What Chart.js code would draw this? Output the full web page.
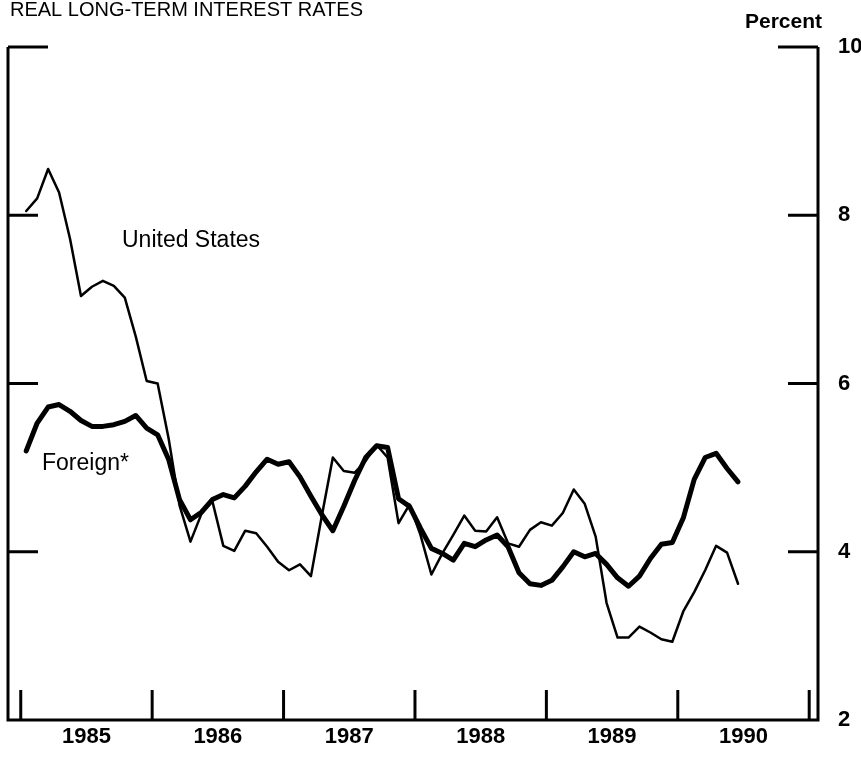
<!DOCTYPE html>
<html>
<head>
<meta charset="utf-8">
<script src="https://cdn.jsdelivr.net/npm/chart.js@4.4.1/dist/chart.umd.min.js"></script>
<style>
  html, body { margin: 0; padding: 0; background: #fff; }
  canvas { display: block; }
</style>
</head>
<body>
<canvas id="chart" width="861" height="757"></canvas>
<script>
// Real long-term interest rates, monthly, Jan 1985 - Jun 1990

const months = [
  "1985-01", "1985-02", "1985-03", "1985-04", "1985-05", "1985-06",
  "1985-07", "1985-08", "1985-09", "1985-10", "1985-11", "1985-12",
  "1986-01", "1986-02", "1986-03", "1986-04", "1986-05", "1986-06",
  "1986-07", "1986-08", "1986-09", "1986-10", "1986-11", "1986-12",
  "1987-01", "1987-02", "1987-03", "1987-04", "1987-05", "1987-06",
  "1987-07", "1987-08", "1987-09", "1987-10", "1987-11", "1987-12",
  "1988-01", "1988-02", "1988-03", "1988-04", "1988-05", "1988-06",
  "1988-07", "1988-08", "1988-09", "1988-10", "1988-11", "1988-12",
  "1989-01", "1989-02", "1989-03", "1989-04", "1989-05", "1989-06",
  "1989-07", "1989-08", "1989-09", "1989-10", "1989-11", "1989-12",
  "1990-01", "1990-02", "1990-03", "1990-04", "1990-05", "1990-06"
];

const usRates = [
  8.05, 8.2, 8.55, 8.27, 7.72, 7.04, 7.15, 7.22, 7.16, 7.02, 6.56, 6.03,
  6.0, 5.35, 4.55, 4.12, 4.45, 4.6, 4.07, 4.01, 4.25, 4.22, 4.06, 3.88,
  3.78, 3.85, 3.71, 4.43, 5.12, 4.96, 4.94, 5.08, 5.27, 5.12, 4.34, 4.56,
  4.2, 3.73, 3.98, 4.2, 4.43, 4.25, 4.24, 4.41, 4.1, 4.06, 4.26, 4.35,
  4.31, 4.46, 4.74, 4.57, 4.18, 3.39, 2.98, 2.98, 3.11, 3.04, 2.96, 2.93,
  3.29, 3.52, 3.78, 4.07, 3.99, 3.62
];

const foreignRates = [
  5.2, 5.53, 5.72, 5.75, 5.67, 5.56, 5.49, 5.49, 5.51, 5.55, 5.62, 5.47,
  5.39, 5.1, 4.62, 4.38, 4.47, 4.62, 4.68, 4.64, 4.78, 4.95, 5.1, 5.04,
  5.07, 4.89, 4.66, 4.44, 4.25, 4.54, 4.85, 5.12, 5.26, 5.24, 4.63, 4.54,
  4.28, 4.04, 3.98, 3.9, 4.1, 4.06, 4.14, 4.2, 4.06, 3.75, 3.62, 3.6,
  3.66, 3.82, 4.0, 3.94, 3.98, 3.85, 3.69, 3.59, 3.71, 3.92, 4.09, 4.11,
  4.4, 4.86, 5.12, 5.17, 4.99, 4.83
];

const yearTicks = [1985, 1986, 1987, 1988, 1989, 1990, 1991];
const yearLabels = ["1985", "1986", "1987", "1988", "1989", "1990"];
const percentTicks = [2, 4, 6, 8, 10];

const FONT = "'Liberation Sans', Arial, Helvetica, sans-serif";

// month string -> decimal year at mid-month
function monthToX(s) {
  var parts = s.split("-");
  return parseInt(parts[0], 10) + (parseInt(parts[1], 10) - 0.5) / 12;
}

function toPoints(values) {
  return values.map(function(v, i) { return { x: monthToX(months[i]), y: v }; });
}

// --- Frame, tick marks and free text ---

var framePlugin = {
  id: "frame",
  afterDraw: function(chart) {
    var ctx = chart.ctx;
    var a = chart.chartArea;
    var x = chart.scales.x;
    var y = chart.scales.y;

    ctx.save();
    ctx.strokeStyle = "#000";
    ctx.lineWidth = 3;
    ctx.lineCap = "butt";

    ctx.beginPath();
    ctx.moveTo(a.left, a.top);
    ctx.lineTo(a.left, a.bottom);
    ctx.lineTo(a.right, a.bottom);
    ctx.lineTo(a.right, a.top);
    ctx.stroke();

    percentTicks.forEach(function(v) {
      if (v === percentTicks[0]) return;
      var py = y.getPixelForValue(v);
      var len = v === percentTicks[percentTicks.length - 1] ? 40 : 30;
      ctx.beginPath();
      ctx.moveTo(a.left, py);
      ctx.lineTo(a.left + len, py);
      ctx.moveTo(a.right, py);
      ctx.lineTo(a.right - len, py);
      ctx.stroke();
    });

    yearTicks.forEach(function(v) {
      var px = x.getPixelForValue(v);
      ctx.beginPath();
      ctx.moveTo(px, a.bottom);
      ctx.lineTo(px, a.bottom - 30);
      ctx.stroke();
    });

    ctx.fillStyle = "#000";
    ctx.textBaseline = "alphabetic";
    ctx.textAlign = "left";

    ctx.font = "20px " + FONT;
    ctx.fillText("REAL LONG-TERM INTEREST RATES", 10, 16);

    ctx.font = "bold 21px " + FONT;
    ctx.fillText("Percent", 745, 28);

    ctx.font = "23px " + FONT;
    ctx.fillText("United States", 122, 247);
    ctx.fillText("Foreign*", 42, 470);

    ctx.restore();
  }
};

new Chart(document.getElementById("chart"), {
  type: "line",
  data: {
    datasets: [
      {
        label: "United States",
        data: toPoints(usRates),
        borderColor: "#000",
        borderWidth: 2.5,
        pointRadius: 0,
        tension: 0,
        fill: false,
        borderJoinStyle: "round",
        borderCapStyle: "round"
      },
      {
        label: "Foreign*",
        data: toPoints(foreignRates),
        borderColor: "#000",
        borderWidth: 5,
        pointRadius: 0,
        tension: 0,
        fill: false,
        borderJoinStyle: "round",
        borderCapStyle: "round"
      }
    ]
  },
  options: {
    responsive: false,
    animation: false,
    devicePixelRatio: 1,
    layout: { padding: { left: 8, top: 47, right: 0, bottom: 0 } },
    plugins: {
      legend: { display: false },
      title: { display: false },
      tooltip: { enabled: false }
    },
    scales: {
      x: {
        type: "linear",
        position: "bottom",
        min: 1984.903,
        max: 1991.067,
        afterFit: function(s) { s.height = 37; },
        afterBuildTicks: function(s) {
          s.ticks = yearLabels.map(function(l) { return { value: parseInt(l, 10) + 0.5 }; });
        },
        ticks: {
          autoSkip: false,
          maxRotation: 0,
          padding: 4,
          color: "#000",
          font: { family: FONT, size: 22, weight: "bold" },
          callback: function(v, i) { return yearLabels[i]; }
        },
        grid: { display: false, drawTicks: false },
        border: { display: false }
      },
      y: {
        position: "right",
        min: 2,
        max: 10,
        afterFit: function(s) { s.width = 43; },
        afterBuildTicks: function(s) {
          s.ticks = percentTicks.map(function(v) { return { value: v }; });
        },
        ticks: {
          padding: 20,
          color: "#000",
          font: { family: FONT, size: 22, weight: "bold" },
          callback: function(v) { return String(v); }
        },
        grid: { display: false, drawTicks: false },
        border: { display: false }
      }
    }
  },
  plugins: [framePlugin]
});
</script>
</body>
</html>
